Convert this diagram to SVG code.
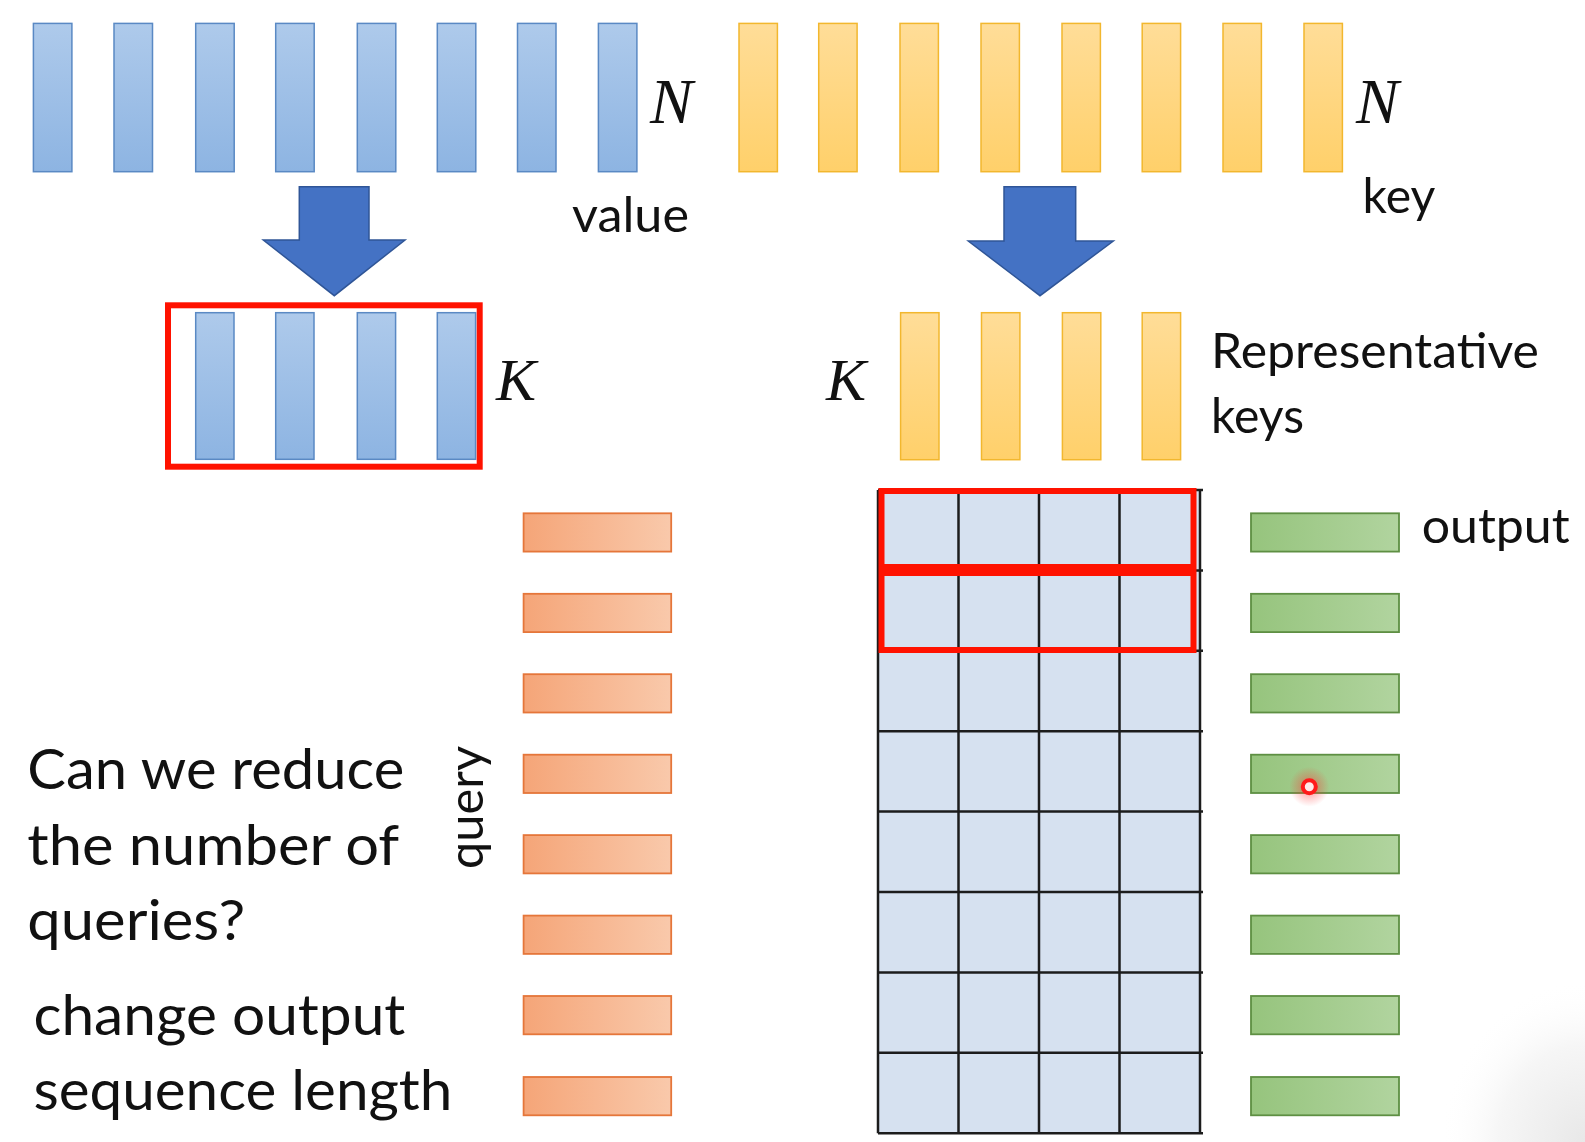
<svg xmlns="http://www.w3.org/2000/svg" width="1585" height="1142" viewBox="0 0 1585 1142">
  <defs>
    <linearGradient id="gBlue" x1="0" y1="0" x2="0" y2="1">
      <stop offset="0" stop-color="#AECAEB"/>
      <stop offset="1" stop-color="#8DB4E2"/>
    </linearGradient>
    <linearGradient id="gYellow" x1="0" y1="0" x2="0" y2="1">
      <stop offset="0" stop-color="#FFDD98"/>
      <stop offset="1" stop-color="#FFD06A"/>
    </linearGradient>
    <linearGradient id="gOrange" x1="0" y1="0" x2="1" y2="0">
      <stop offset="0" stop-color="#F5A578"/>
      <stop offset="1" stop-color="#F9C9AB"/>
    </linearGradient>
    <linearGradient id="gGreen" x1="0" y1="0" x2="1" y2="0">
      <stop offset="0" stop-color="#96C47D"/>
      <stop offset="1" stop-color="#B1D49F"/>
    </linearGradient>
    <radialGradient id="gGlow">
      <stop offset="0" stop-color="#FF3030" stop-opacity="0.55"/>
      <stop offset="1" stop-color="#FF3030" stop-opacity="0"/>
    </radialGradient>
    <radialGradient id="gCorner" cx="1" cy="1" r="1">
      <stop offset="0" stop-color="#E8E8E8"/>
      <stop offset="0.6" stop-color="#F6F6F6"/>
      <stop offset="1" stop-color="#FFFFFF" stop-opacity="0"/>
    </radialGradient>
  </defs>
  <style>
    .vb { fill: url(#gBlue); stroke: #5A89C4; stroke-width: 1.5; }
    .kb { fill: url(#gYellow); stroke: #F2B72E; stroke-width: 1.5; }
    .qb { fill: url(#gOrange); stroke: #E5763A; stroke-width: 1.8; }
    .ob { fill: url(#gGreen); stroke: #5E8F43; stroke-width: 1.8; }
    .arrow { fill: #4472C4; stroke: #2F5597; stroke-width: 1.5; }
    .red { fill: none; stroke: #FF1200; stroke-width: 6; }
    .gl { stroke: #1C1C1C; stroke-width: 2.5; fill: none; }
    .t { font-family: Lato, "Open Sans", "Liberation Sans", sans-serif; fill: #111; }
    .m { font-family: "Liberation Serif", "DejaVu Serif", serif; font-style: italic; fill: #111; }
  </style>

  <rect x="0" y="0" width="1585" height="1142" fill="#FFFFFF"/>
  <rect x="1440" y="980" width="145" height="162" fill="url(#gCorner)"/>

  <g id="value-bars">
    <rect class="vb" x="33.4" y="23.4" width="38.5" height="148.3"/>
    <rect class="vb" x="114" y="23.4" width="38.5" height="148.3"/>
    <rect class="vb" x="195.7" y="23.4" width="38.5" height="148.3"/>
    <rect class="vb" x="275.7" y="23.4" width="38.5" height="148.3"/>
    <rect class="vb" x="357.3" y="23.4" width="38.5" height="148.3"/>
    <rect class="vb" x="437.3" y="23.4" width="38.5" height="148.3"/>
    <rect class="vb" x="517.5" y="23.4" width="38.5" height="148.3"/>
    <rect class="vb" x="598.4" y="23.4" width="38.5" height="148.3"/>
  </g>

  <g id="key-bars">
    <rect class="kb" x="739" y="23.4" width="38.4" height="148.3"/>
    <rect class="kb" x="818.7" y="23.4" width="38.4" height="148.3"/>
    <rect class="kb" x="900" y="23.4" width="38.4" height="148.3"/>
    <rect class="kb" x="981" y="23.4" width="38.4" height="148.3"/>
    <rect class="kb" x="1062" y="23.4" width="38.4" height="148.3"/>
    <rect class="kb" x="1142.2" y="23.4" width="38.4" height="148.3"/>
    <rect class="kb" x="1223" y="23.4" width="38.4" height="148.3"/>
    <rect class="kb" x="1304" y="23.4" width="38.4" height="148.3"/>
  </g>

  <g id="connectors">
    <path class="arrow" d="M299.3,186.7 H369 V240 H405 L334.3,295.7 L263.3,240 H299.3 Z"/>
    <path class="arrow" d="M1004,186.7 H1075.7 V241 H1113.3 L1040,295.7 L968.3,241 H1004 Z"/>
  </g>

  <g id="value-K">
    <rect class="vb" x="195.7" y="312.7" width="38.3" height="146.6"/>
    <rect class="vb" x="275.7" y="312.7" width="38.3" height="146.6"/>
    <rect class="vb" x="357.3" y="312.7" width="38.3" height="146.6"/>
    <rect class="vb" x="437.3" y="312.7" width="38.3" height="146.6"/>
    <rect class="red" x="168" y="305.3" width="311.7" height="161.4"/>
  </g>

  <g id="key-K">
    <rect class="kb" x="900.6" y="312.7" width="38.4" height="147"/>
    <rect class="kb" x="981.5" y="312.7" width="38.4" height="147"/>
    <rect class="kb" x="1062.4" y="312.7" width="38.4" height="147"/>
    <rect class="kb" x="1142.2" y="312.7" width="38.4" height="147"/>
  </g>

  <g id="attention-grid">
    <rect x="878" y="490" width="322" height="643.2" fill="#D6E1F0"/>
    <path class="gl" d="M878,490 V1133.2 M958.5,490 V1133.2 M1039,490 V1133.2 M1119.5,490 V1133.2 M1200,490 V1133.2"/>
    <path class="gl" d="M878,490 H1203 M878,570.4 H1203 M878,650.8 H1203 M878,731.2 H1203 M878,811.6 H1203 M878,892 H1203 M878,972.4 H1203 M878,1052.8 H1203 M878,1133.2 H1203"/>
    <rect class="red" x="881.5" y="491" width="312" height="76"/>
    <rect class="red" x="881.5" y="573" width="312" height="77"/>
  </g>

  <g id="queries">
    <rect class="qb" x="523.6" y="513.3" width="147.6" height="38.3"/>
    <rect class="qb" x="523.6" y="593.8" width="147.6" height="38.3"/>
    <rect class="qb" x="523.6" y="674.2" width="147.6" height="38.3"/>
    <rect class="qb" x="523.6" y="754.7" width="147.6" height="38.3"/>
    <rect class="qb" x="523.6" y="835.1" width="147.6" height="38.3"/>
    <rect class="qb" x="523.6" y="915.6" width="147.6" height="38.3"/>
    <rect class="qb" x="523.6" y="996" width="147.6" height="38.3"/>
    <rect class="qb" x="523.6" y="1077" width="147.6" height="38.3"/>
  </g>

  <g id="outputs">
    <rect class="ob" x="1251" y="513.3" width="148" height="38.3"/>
    <rect class="ob" x="1251" y="593.8" width="148" height="38.3"/>
    <rect class="ob" x="1251" y="674.2" width="148" height="38.3"/>
    <rect class="ob" x="1251" y="754.7" width="148" height="38.3"/>
    <rect class="ob" x="1251" y="835.1" width="148" height="38.3"/>
    <rect class="ob" x="1251" y="915.6" width="148" height="38.3"/>
    <rect class="ob" x="1251" y="996" width="148" height="38.3"/>
    <rect class="ob" x="1251" y="1077" width="148" height="38.3"/>
  </g>

  <g id="pointer">
    <circle cx="1309.3" cy="786.7" r="20" fill="url(#gGlow)"/>
    <circle cx="1309.3" cy="786.7" r="6.5" fill="#FFE8E8" stroke="#FF1A1A" stroke-width="4"/>
  </g>

  <g id="labels">
    <text class="m" x="650" y="123.3" font-size="64">N</text>
    <text class="m" x="1356" y="123.3" font-size="64">N</text>
    <text class="m" x="496" y="400" font-size="60">K</text>
    <text class="m" x="826" y="400" font-size="60">K</text>
    <text class="t" x="572" y="232" font-size="48" textLength="117" lengthAdjust="spacingAndGlyphs">value</text>
    <text class="t" x="1362.6" y="213" font-size="48" textLength="72.7" lengthAdjust="spacingAndGlyphs">key</text>
    <text class="t" x="1211" y="368.3" font-size="48" textLength="328" lengthAdjust="spacingAndGlyphs">Representative</text>
    <text class="t" x="1211" y="433.3" font-size="48" textLength="93" lengthAdjust="spacingAndGlyphs">keys</text>
    <text class="t" x="1421.7" y="543.3" font-size="48" textLength="148" lengthAdjust="spacingAndGlyphs">output</text>
    <text class="t" transform="translate(483,807.5) rotate(-90)" x="0" y="0" font-size="48" text-anchor="middle" textLength="123" lengthAdjust="spacingAndGlyphs">query</text>
    <text class="t" x="27.3" y="789" font-size="56" textLength="377" lengthAdjust="spacingAndGlyphs">Can we reduce</text>
    <text class="t" x="27.3" y="865" font-size="56" textLength="372" lengthAdjust="spacingAndGlyphs">the number of</text>
    <text class="t" x="27.3" y="940" font-size="56" textLength="218" lengthAdjust="spacingAndGlyphs">queries?</text>
    <text class="t" x="33.4" y="1035" font-size="56" textLength="372" lengthAdjust="spacingAndGlyphs">change output</text>
    <text class="t" x="33.4" y="1110" font-size="56" textLength="419" lengthAdjust="spacingAndGlyphs">sequence length</text>
  </g>
</svg>
